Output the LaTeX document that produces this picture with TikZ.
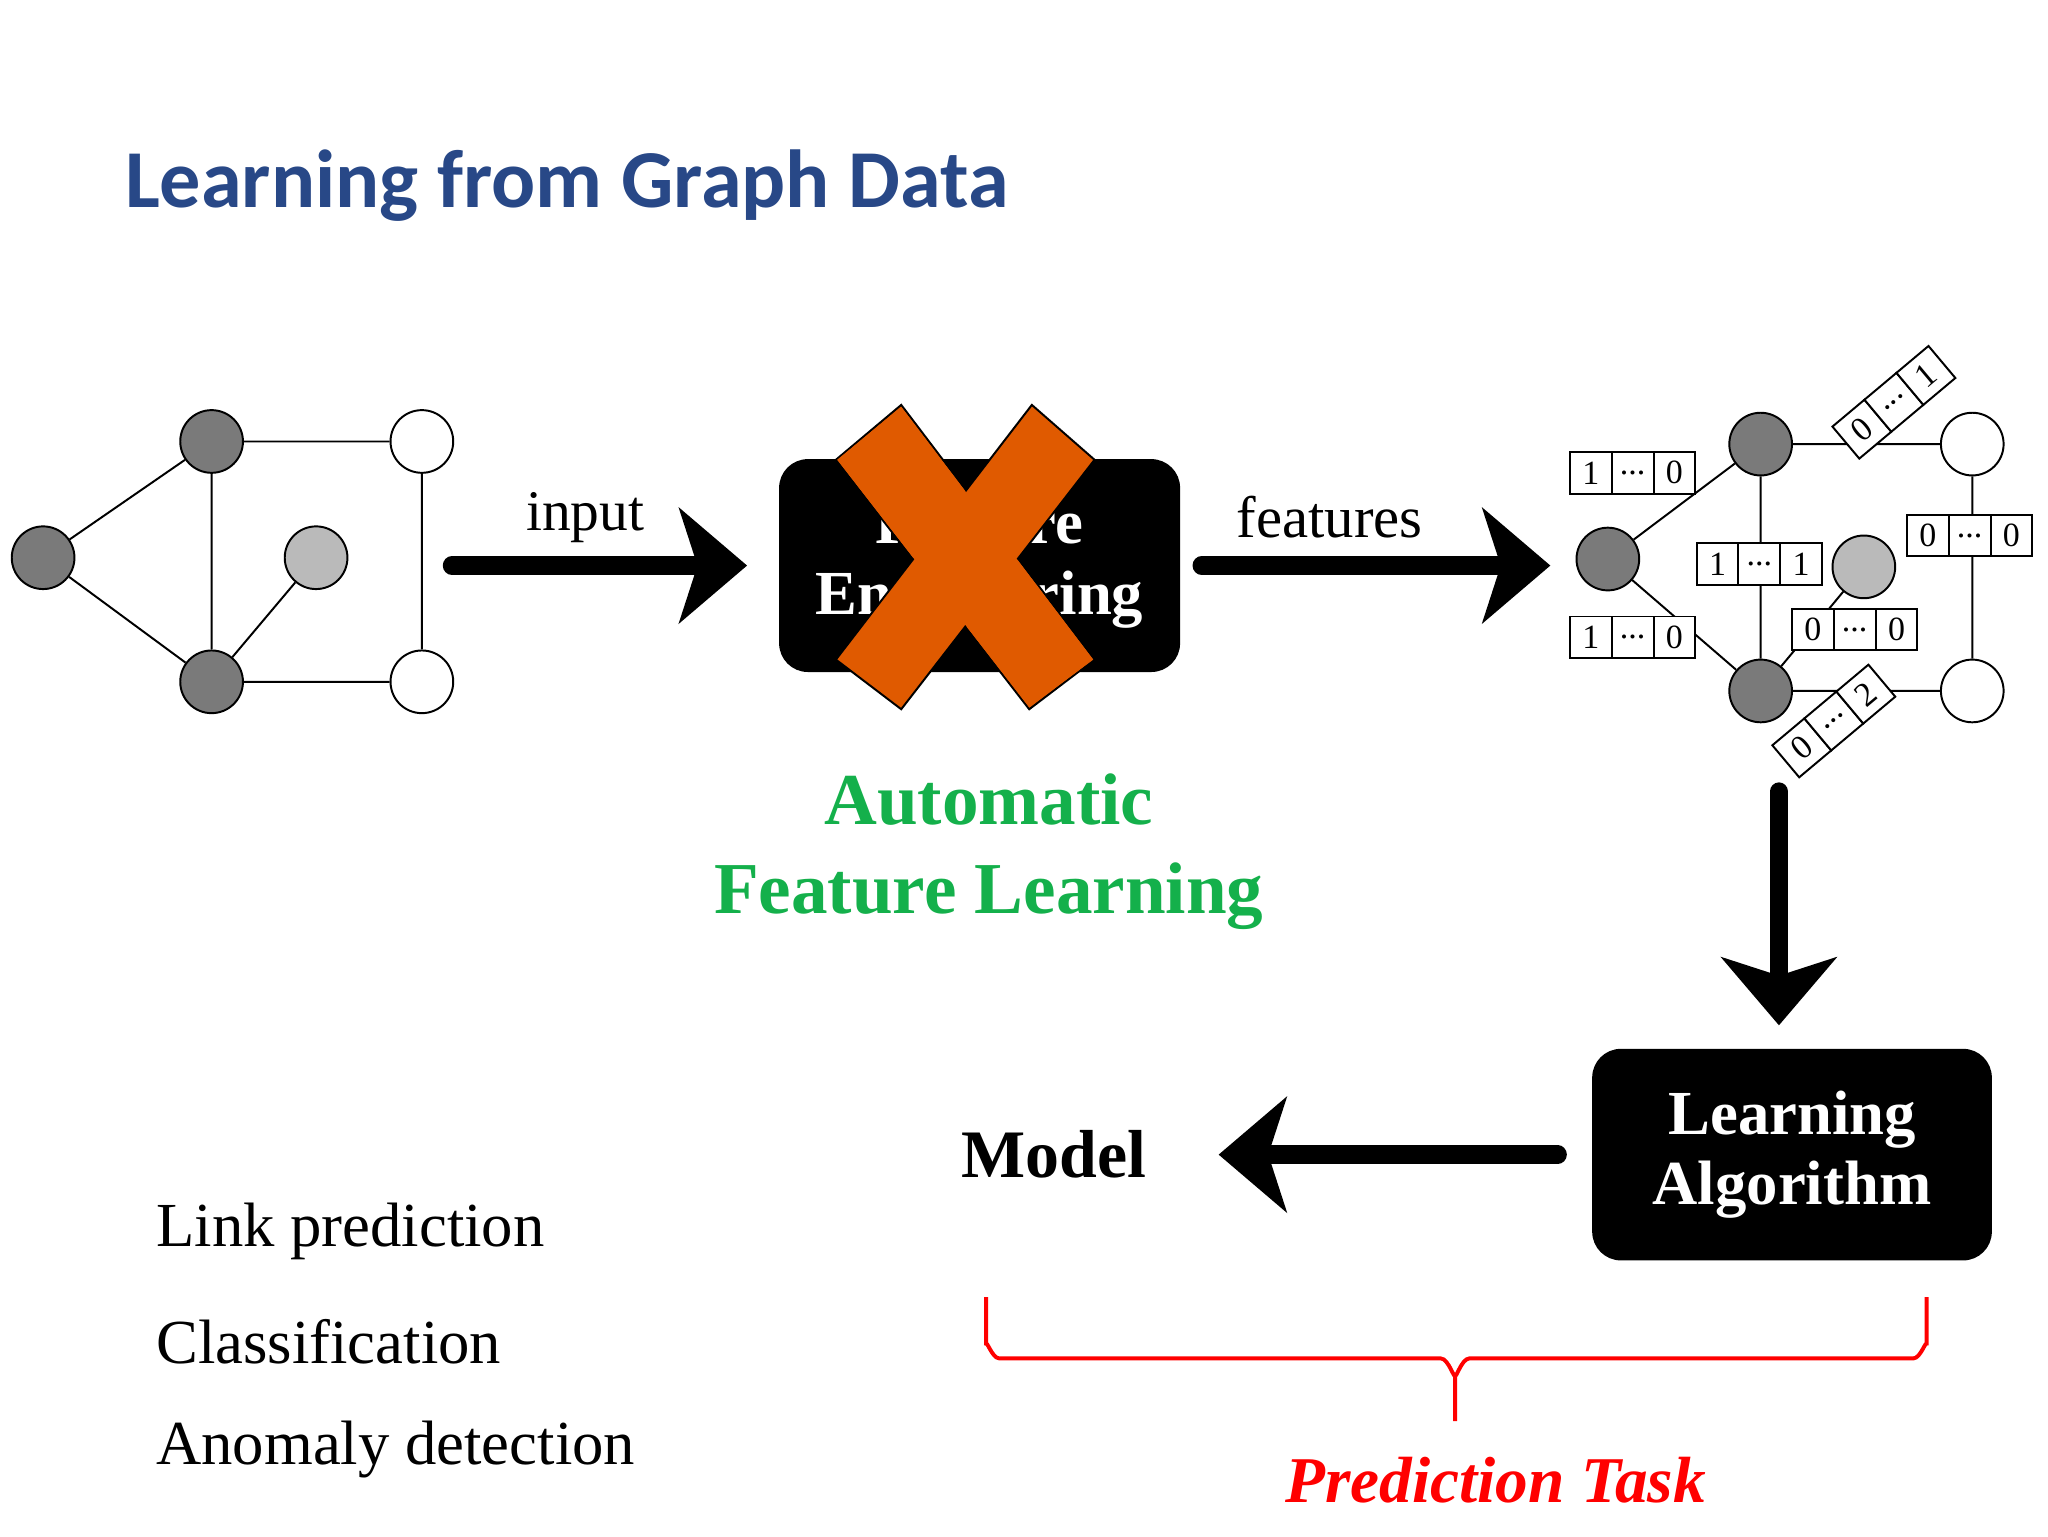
\documentclass[tikz,border=0pt]{standalone}
\usepackage{fontspec}
\setmainfont{Liberation Serif}
\newfontfamily\titlefont{Carlito}
\usetikzlibrary{arrows.meta}
\definecolor{titleblue}{RGB}{40,72,135}
\definecolor{xorange}{RGB}{224,90,0}
\definecolor{autogreen}{RGB}{20,176,75}
\tikzset{every picture/.style={line width=0.75pt}}
\tikzset{
  vtx/.style={circle,draw,line width=1.5pt,minimum size=48pt,inner sep=0pt},
  dark/.style={vtx,fill=black!52},
  light/.style={vtx,fill=black!27},
  blank/.style={vtx,fill=white},
  bigarrow/.style={line width=14pt,line cap=round,-{Stealth[length=52pt,width=88pt,inset=14pt]}},
  cell/.style={draw,fill=white,line width=1.5pt,minimum width=32pt,minimum height=32pt,inner sep=0pt,font=\fontsize{26}{26}\selectfont},
  blackbox/.style={fill=black,rounded corners=22pt,text=white,font=\bfseries\fontsize{48}{54}\selectfont,align=center},
}
\newcommand{\fvec}[4]{% name, centre, rotation, first
  \begin{scope}[shift={#2}]
    \node[cell,rotate=#3] (#1a) at (-#3:-32) {#4};
    \node[cell,rotate=#3] (#1b) at (0,0) {...};
    \node[cell,rotate=#3] (#1c) at (-#3:32) {\fvlast};
  \end{scope}}
\begin{document}
\begin{tikzpicture}[x=1pt,y=1pt,yscale=-1]
\useasboundingbox (0,0) rectangle (1568,1176);

% title
\node[anchor=west,text=titleblue,font=\titlefont\bfseries\fontsize{63}{64}\selectfont] (title) at (92,142) {Learning from Graph Data};

% input graph
\node[dark] (ga) at (33,427) {};
\node[dark] (gb) at (162,338) {};
\node[blank] (gc) at (323,338) {};
\node[light] (gd) at (242,427) {};
\node[dark] (ge) at (162,522) {};
\node[blank] (gf) at (323,522) {};
\draw[line width=1.5pt] (ga) -- (gb) (ga) -- (ge) (gb) -- (ge) (gb) -- (gc)
  (gc) -- (gf) (ge) -- (gf) (ge) -- (gd);

% feature engineering (crossed out)
\node[blackbox,minimum width=307pt,minimum height=163pt] (fe) at (750,433) {Feature\\Engineering};
\draw[fill=xorange,line width=1.5pt] (640,352) -- (690,310) -- (838,505) -- (788,543) -- cycle;
\draw[fill=xorange,line width=1.5pt] (790,310) -- (838,352) -- (690,543) -- (640,505) -- cycle;
\fill[xorange] (641,352) -- (690,311.5) -- (837,505) -- (788,541.5) -- cycle;

\coordinate (inS) at (346,433);
\coordinate (inE) at (572,433);
\draw[bigarrow] (inS) -- (inE);
\node[font=\fontsize{44}{44}\selectfont] (inlbl) at (448,396) {input};
\coordinate (ftS) at (920,433);
\coordinate (ftE) at (1187,433);
\draw[bigarrow] (ftS) -- (ftE);
\node[font=\fontsize{45}{45}\selectfont] (ftlbl) at (1018,396) {features};

\node[text=autogreen,font=\bfseries\fontsize{56}{68}\selectfont,align=center] (auto) at (757,652) {Automatic\\Feature Learning};

% feature graph
\node[dark] (ha) at (1231,428) {};
\node[dark] (hb) at (1348,340) {};
\node[blank] (hc) at (1510,340) {};
\node[light] (hd) at (1427,434) {};
\node[dark] (he) at (1348,529) {};
\node[blank] (hf) at (1510,529) {};
\draw[line width=1.5pt] (ha) -- (hb) (ha) -- (he) (hb) -- (he) (hb) -- (hc)
  (hc) -- (hf) (he) -- (hf) (he) -- (hd);
\def\fvlast{0}\fvec{v1}{(1250,362)}{0}{1}
\def\fvlast{0}\fvec{v2}{(1250,488)}{0}{1}
\def\fvlast{1}\fvec{v3}{(1347,432)}{0}{1}
\def\fvlast{0}\fvec{v4}{(1420,482)}{0}{0}
\def\fvlast{0}\fvec{v5}{(1508,410)}{0}{0}
\def\fvlast{1}\fvec{v6}{(1450,308)}{40}{0}
\def\fvlast{2}\fvec{v7}{(1404,552)}{40}{0}

% learning
\coordinate (dnS) at (1362,606);
\coordinate (dnE) at (1362,785);
\draw[bigarrow] (dnS) -- (dnE);
\node[blackbox,minimum width=306pt,minimum height=162pt] (learn) at (1372,884) {Learning\\Algorithm};
\node[font=\bfseries\fontsize{52}{52}\selectfont] (model) at (807,884) {Model};
\draw[bigarrow] (learn.west) ++(-26,0) -- (933,884);

% tasks
\node[anchor=west,font=\fontsize{48}{48}\selectfont] (t1) at (116,943) {Link prediction};
\node[anchor=west,font=\fontsize{48}{48}\selectfont] (t2) at (116,1027) {Classification};
\node[anchor=west,font=\fontsize{48}{48}\selectfont] (t3) at (116,1110) {Anomaly detection};

\draw[red,line width=3pt] (755,993) -- (755,1030) to[out=-90,in=180] (765,1040) -- (1103,1040)
  to[out=0,in=90] (1114,1052) -- (1114,1088) -- (1114,1052) to[out=90,in=180] (1125,1040)
  -- (1465,1040) to[out=0,in=-90] (1475,1030) -- (1475,993);
\node[text=red,font=\bfseries\itshape\fontsize{50}{50}\selectfont] (task) at (1145,1133) {Prediction Task};
\end{tikzpicture}
\end{document}
